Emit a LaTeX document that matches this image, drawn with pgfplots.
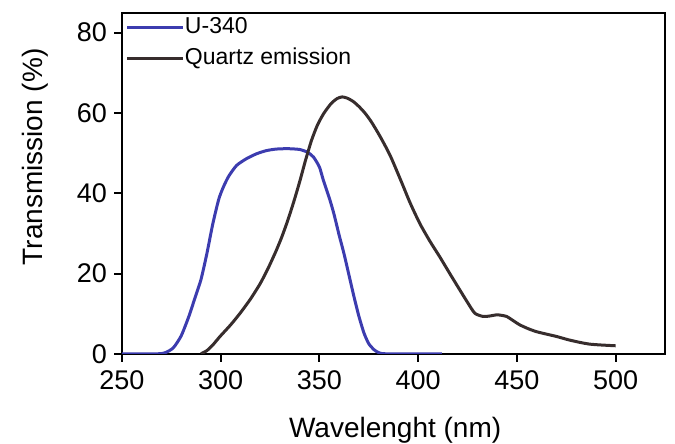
\documentclass[border=0pt]{standalone}
\usepackage{fontspec}
\setmainfont{Liberation Sans}
\usepackage{pgfplots}
\pgfplotsset{compat=1.18}

\definecolor{ublue}{RGB}{60,60,175}
\definecolor{qdark}{RGB}{55,45,45}

\pgfplotstableread{
nm   T
250  0
268  0
272  0.3
276  1.5
280  4.5
284  9.5
287  14
290  18.5
293  25
296  32.4
299  38.5
301.3 41.5
304  44.2
308  46.9
313  48.6
318  49.8
323  50.6
328  51
334  51.1
340  50.9
344  50.2
347  49
350  46.5
352  43.2
355  38.8
357.3 34.9
360  29.5
362.4 25
365  19.5
367.5 14.2
370  9.3
372.6 5.1
375  2.5
377.7 1
380  0.3
384  0
412  0
}\ufilter

\pgfplotstableread{
nm   T
290  0
293  0.8
296  2.2
299.6 4.3
305  7.2
309.8 10.1
315  13.6
320  17.5
324  21.3
328  25.6
331  29.2
334  33.3
337  37.9
340  42.9
343  48.3
346  53.2
349  57
352.2 59.9
356  62.4
359  63.6
361.5 64
364  63.7
367  62.9
370  61.6
373  60
376  58
379  55.6
382  53
386  49.2
391.2 43.2
396  37.5
400.9 32.4
406  28
411  24.1
416  20
421.1 15.9
425  12.8
428.7 10.1
432.9 9.3
436  9.4
439.7 9.7
442  9.6
444.8 9.3
448  8.3
451.5 7.2
456  6.2
460  5.5
465  4.9
470.2 4.3
476  3.5
482.3 2.8
487  2.4
492.4 2.2
500  2.0
}\quartz

\begin{document}
\begin{tikzpicture}
\begin{axis}[
    name=ax,
    scale only axis,
    width=271.5pt, height=170.6pt,
    xmin=250, xmax=525, ymin=0, ymax=85,
    xtick={250,300,350,400,450,500},
    ytick={0,20,40,60,80},
    xtick pos=bottom, ytick pos=left,
    tick align=outside,
    major tick length=4pt,
    axis line style={line width=1pt},
    every tick/.style={line width=1pt, black},
    /pgf/number format/assume math mode=true,
    tick label style={font=\fontsize{13.5}{15}\selectfont},
    xticklabel style={yshift=-1pt},
    xlabel={Wavelenght (nm)},
    ylabel={Transmission (\%)},
    label style={font=\fontsize{14}{16}\selectfont},
    xlabel style={at={(axis description cs:0.503,-0.246)}, anchor=base},
    ylabel style={at={(axis description cs:-0.147,0.577)}, anchor=base},
    legend style={at={(axis description cs:0,1)}, anchor=north west,
        xshift=2pt, yshift=-1.3pt,
        draw=none, fill=none, inner sep=0pt, outer sep=0pt,
        row sep=3.5pt,
        font=\fontsize{11.5}{13}\selectfont,
        nodes={inner sep=0.5pt, text height=8.5pt, text depth=2.5pt}},
    legend cell align=left,
    legend image code/.code={\draw[#1] (0pt,0pt) -- (27.5pt,0pt);},
]
\addplot[ublue, line width=1.5pt, line join=round, smooth, tension=0.4] table[x=nm, y=T] {\ufilter};
\addlegendentry{U-340}
\addplot[qdark, line width=1.5pt, line join=round, smooth, tension=0.4] table[x=nm, y=T] {\quartz};
\addlegendentry{Quartz emission}
\end{axis}
\pgfresetboundingbox
\path[use as bounding box] ([xshift=-61pt,yshift=-45pt]ax.south west) rectangle ([xshift=5pt,yshift=6.3pt]ax.north east);
\end{tikzpicture}
\end{document}
